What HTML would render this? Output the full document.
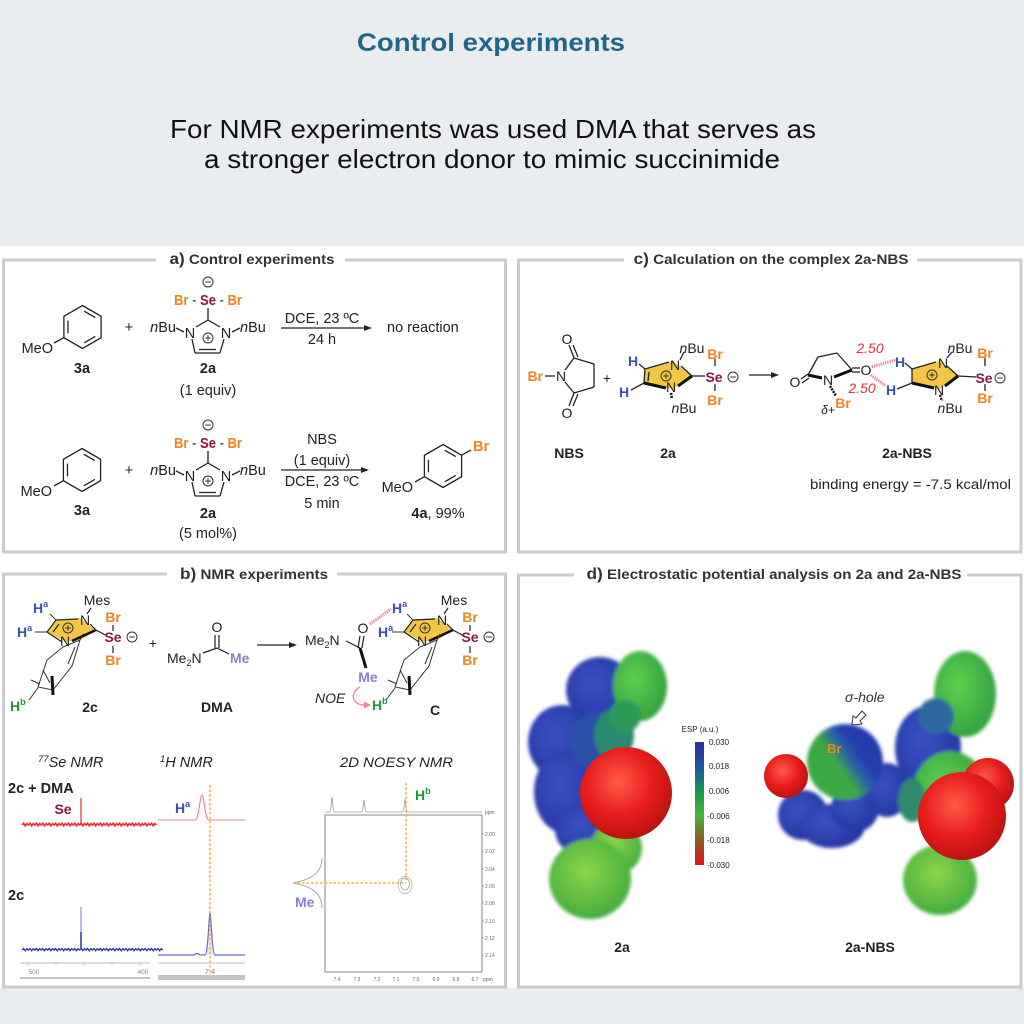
<!DOCTYPE html>
<html><head><meta charset="utf-8">
<style>
html,body{margin:0;padding:0;background:#fff;}
svg{display:block;}
text{font-family:"Liberation Sans",Arial,sans-serif;}
</style></head><body>
<svg width="1024" height="1024" viewBox="0 0 1024 1024" xmlns="http://www.w3.org/2000/svg">
<defs>
<g id="benz" stroke="#222" stroke-width="1.3" fill="none">
 <polygon points="0,-21.5 18.6,-10.75 18.6,10.75 0,21.5 -18.6,10.75 -18.6,-10.75"/>
 <line x1="1.7" y1="-15.8" x2="12.8" y2="-9.4"/>
 <line x1="-14.55" y1="-6.4" x2="-14.55" y2="6.4"/>
 <line x1="12.8" y1="9.4" x2="1.7" y2="15.8"/>
</g>
<g id="minus" stroke="#333" stroke-width="1" fill="none"><circle r="5"/><line x1="-2.8" y1="0" x2="2.8" y2="0"/></g>
<g id="plus" stroke="#333" stroke-width="1" fill="none"><circle r="5"/><line x1="-2.8" y1="0" x2="2.8" y2="0"/><line x1="0" y1="-2.8" x2="0" y2="2.8"/></g>
<radialGradient id="gRed" cx="0.42" cy="0.38" r="0.65"><stop offset="0" stop-color="#ff5a4a"/><stop offset="0.55" stop-color="#e81e1c"/><stop offset="1" stop-color="#b81212"/></radialGradient>
<radialGradient id="gBlue" cx="0.4" cy="0.4" r="0.7"><stop offset="0" stop-color="#3a50c4"/><stop offset="1" stop-color="#24349f"/></radialGradient>
<radialGradient id="gGreen" cx="0.4" cy="0.4" r="0.7"><stop offset="0" stop-color="#5fcf50"/><stop offset="1" stop-color="#2e9c3e"/></radialGradient>
<radialGradient id="gGreenY" cx="0.45" cy="0.4" r="0.7"><stop offset="0" stop-color="#8ad648"/><stop offset="1" stop-color="#3aa63e"/></radialGradient>
<linearGradient id="gBr" x1="0.1" y1="0.75" x2="0.9" y2="0.2"><stop offset="0" stop-color="#3aa844"/><stop offset="0.38" stop-color="#3aa844"/><stop offset="0.55" stop-color="#2a6aa0"/><stop offset="0.7" stop-color="#2840b0"/><stop offset="1" stop-color="#2438ae"/></linearGradient>
<linearGradient id="gBar" x1="0" y1="0" x2="0" y2="1"><stop offset="0" stop-color="#2a2f9e"/><stop offset="0.22" stop-color="#1c5a9a"/><stop offset="0.42" stop-color="#1f9a48"/><stop offset="0.6" stop-color="#45b83a"/><stop offset="0.8" stop-color="#8a5a22"/><stop offset="1" stop-color="#e01414"/></linearGradient>
<filter id="soft" x="-10%" y="-10%" width="120%" height="120%"><feGaussianBlur stdDeviation="1.8"/></filter>
</defs>

<rect width="1024" height="1024" fill="#fff"/>
<rect x="0" y="0" width="1024" height="246" fill="#e9edef"/>
<rect x="0" y="988" width="1024" height="36" fill="#e9edef"/>

<text x="491" y="51" text-anchor="middle" font-size="25" font-weight="bold" fill="#1e6687" textLength="268" lengthAdjust="spacingAndGlyphs">Control experiments</text>
<text x="493" y="138" text-anchor="middle" font-size="26" fill="#111" textLength="646" lengthAdjust="spacingAndGlyphs">For NMR experiments was used DMA that serves as</text>
<text x="492" y="168" text-anchor="middle" font-size="26" fill="#111" textLength="576" lengthAdjust="spacingAndGlyphs">a stronger electron donor to mimic succinimide</text>

<!-- panel borders -->
<g fill="none" stroke="#c9cbcd" stroke-width="3">
 <path d="M156,260 H3.5 V552 H505.5 V260 H345"/>
 <path d="M624,260 H518.5 V552 H1021 V260 H917"/>
 <path d="M167,574 H3.5 V987 H505.5 V574 H337"/>
 <path d="M574,575 H518.5 V987 H1021 V575 H967"/>
</g>
<g font-weight="bold" fill="#333" text-anchor="middle" font-size="14">
 <text x="252" y="264" textLength="165" lengthAdjust="spacingAndGlyphs"><tspan font-size="16">a)</tspan> Control experiments</text>
 <text x="771" y="264" textLength="275" lengthAdjust="spacingAndGlyphs"><tspan font-size="16">c)</tspan> Calculation on the complex 2a-NBS</text>
 <text x="254" y="579" textLength="148" lengthAdjust="spacingAndGlyphs"><tspan font-size="16">b)</tspan> NMR experiments</text>
 <text x="774" y="579" textLength="375" lengthAdjust="spacingAndGlyphs"><tspan font-size="16">d)</tspan> Electrostatic potential analysis on 2a and 2a-NBS</text>
</g>

<!-- ===== Panel a ===== -->
<g font-size="14.5" fill="#222">
 <use href="#benz" x="82.5" y="327"/>
 <line x1="63.9" y1="337.7" x2="54" y2="343" stroke="#222" stroke-width="1.3"/>
 <text x="53" y="353" text-anchor="end">MeO</text>
 <text x="82" y="373" text-anchor="middle" font-weight="bold">3a</text>
 <text x="129" y="332" text-anchor="middle">+</text>
 <g id="se2a">
  <use href="#minus" x="208" y="282"/>
  <text x="208" y="305" text-anchor="middle" font-weight="bold" textLength="68" lengthAdjust="spacingAndGlyphs"><tspan fill="#f58220">Br</tspan><tspan fill="#222" font-weight="normal"> - </tspan><tspan fill="#8c1646">Se</tspan><tspan fill="#222" font-weight="normal"> - </tspan><tspan fill="#f58220">Br</tspan></text>
  <g stroke="#222" stroke-width="1.3" fill="none">
   <line x1="208" y1="308" x2="208" y2="320"/>
   <line x1="208" y1="320" x2="196" y2="327"/>
   <line x1="192" y1="339" x2="195" y2="353"/>
   <line x1="195" y1="353" x2="220" y2="353"/>
   <line x1="220" y1="353" x2="224" y2="339"/>
   <line x1="220" y1="327" x2="208" y2="320"/>
   <line x1="199" y1="349.5" x2="216" y2="349.5"/>
   <line x1="176" y1="328" x2="184" y2="332"/>
   <line x1="232" y1="332" x2="240" y2="328"/>
  </g>
  <text x="190" y="338" text-anchor="middle">N</text>
  <text x="226" y="338" text-anchor="middle">N</text>
  <use href="#plus" x="208" y="338"/>
  <text x="176" y="332" text-anchor="end"><tspan font-style="italic">n</tspan>Bu</text>
  <text x="240" y="332"><tspan font-style="italic">n</tspan>Bu</text>
 </g>
 <text x="208" y="373" text-anchor="middle" font-weight="bold">2a</text>
 <text x="208" y="395" text-anchor="middle">(1 equiv)</text>
 <line x1="281" y1="328" x2="366" y2="328" stroke="#222" stroke-width="1.2"/>
 <polygon points="372,328 364,325 364,331" fill="#222"/>
 <text x="322" y="323" text-anchor="middle">DCE, 23 ºC</text>
 <text x="322" y="344" text-anchor="middle">24 h</text>
 <text x="387" y="332">no reaction</text>

 <use href="#benz" x="82" y="470"/>
 <line x1="63.4" y1="480.7" x2="54" y2="486" stroke="#222" stroke-width="1.3"/>
 <text x="52" y="496" text-anchor="end">MeO</text>
 <text x="82" y="515" text-anchor="middle" font-weight="bold">3a</text>
 <text x="129" y="475" text-anchor="middle">+</text>
 <use href="#se2a" x="0" y="143"/>
 <text x="208" y="518" text-anchor="middle" font-weight="bold">2a</text>
 <text x="208" y="538" text-anchor="middle">(5 mol%)</text>
 <line x1="281" y1="470" x2="363" y2="470" stroke="#222" stroke-width="1.2"/>
 <polygon points="369,470 361,467 361,473" fill="#222"/>
 <text x="322" y="444" text-anchor="middle">NBS</text>
 <text x="322" y="465" text-anchor="middle">(1 equiv)</text>
 <text x="322" y="486" text-anchor="middle">DCE, 23 ºC</text>
 <text x="322" y="508" text-anchor="middle">5 min</text>
 <use href="#benz" x="443" y="466"/>
 <line x1="424.4" y1="476.7" x2="415" y2="482" stroke="#222" stroke-width="1.3"/>
 <text x="413" y="492" text-anchor="end">MeO</text>
 <line x1="461.6" y1="455.2" x2="471" y2="450" stroke="#222" stroke-width="1.3"/>
 <text x="473" y="451" fill="#f58220" font-weight="bold">Br</text>
 <text x="438" y="518" text-anchor="middle"><tspan font-weight="bold">4a</tspan>, 99%</text>
</g>

<!-- ===== Panel c ===== -->
<g font-size="14" fill="#222">
 <text x="543" y="381" text-anchor="end" fill="#f58220" font-weight="bold">Br</text>
 <line x1="545" y1="376" x2="555" y2="376" stroke="#222" stroke-width="1.3"/>
 <text x="561" y="381" text-anchor="middle">N</text>
 <g stroke="#222" stroke-width="1.3" fill="none">
  <line x1="565" y1="370" x2="574" y2="358"/>
  <line x1="574" y1="358" x2="594" y2="364"/>
  <line x1="594" y1="364" x2="594" y2="387"/>
  <line x1="594" y1="387" x2="574" y2="393"/>
  <line x1="574" y1="393" x2="565" y2="382"/>
  <line x1="574" y1="358" x2="569" y2="345"/>
  <line x1="578" y1="357" x2="573" y2="345"/>
  <line x1="574" y1="393" x2="569" y2="406"/>
  <line x1="578" y1="394" x2="573" y2="406"/>
 </g>
 <text x="567" y="344" text-anchor="middle">O</text>
 <text x="567" y="418" text-anchor="middle">O</text>
 <text x="569" y="458" text-anchor="middle" font-weight="bold">NBS</text>
 <text x="607" y="383" text-anchor="middle">+</text>
 <polygon points="645,369 673,361 692,376 673,389 644,383" fill="#f3c744"/>
 <g stroke="#222" stroke-width="1.3" fill="none">
  <line x1="639" y1="364" x2="645" y2="369"/>
  <line x1="631" y1="390" x2="644" y2="383"/>
  <line x1="645" y1="369" x2="644" y2="383"/>
  <line x1="649" y1="372" x2="648" y2="381"/>
  <line x1="645" y1="369" x2="669" y2="362"/>
  <line x1="681" y1="366" x2="692" y2="376"/>
  <line x1="692" y1="376" x2="705" y2="376"/>
  <line x1="680" y1="360" x2="684" y2="352"/>
  <line x1="715" y1="359" x2="715" y2="366"/>
  <line x1="715" y1="384" x2="715" y2="391"/>
 </g>
 <line x1="644" y1="383" x2="666" y2="388" stroke="#111" stroke-width="3"/>
 <line x1="692" y1="376" x2="678" y2="386" stroke="#111" stroke-width="3"/>
 <line x1="671" y1="393" x2="672" y2="399" stroke="#111" stroke-width="2.5" stroke-dasharray="2,1"/>
 <use href="#plus" x="666" y="376"/>
 <text x="675" y="370" text-anchor="middle">N</text>
 <text x="671" y="392" text-anchor="middle">N</text>
 <text x="633" y="366" text-anchor="middle" fill="#3a4fb0" font-weight="bold">H</text>
 <text x="624" y="397" text-anchor="middle" fill="#3a4fb0" font-weight="bold">H</text>
 <text x="692" y="353" text-anchor="middle"><tspan font-style="italic">n</tspan>Bu</text>
 <text x="684" y="413" text-anchor="middle"><tspan font-style="italic">n</tspan>Bu</text>
 <text x="715" y="359" text-anchor="middle" fill="#f58220" font-weight="bold">Br</text>
 <text x="714" y="382" text-anchor="middle" fill="#8c1646" font-weight="bold">Se</text>
 <text x="715" y="405" text-anchor="middle" fill="#f58220" font-weight="bold">Br</text>
 <use href="#minus" x="733" y="377"/>
 <text x="668" y="458" text-anchor="middle" font-weight="bold">2a</text>
 <line x1="749" y1="375" x2="773" y2="375" stroke="#222" stroke-width="1.2"/>
 <polygon points="779,375 771,372 771,378" fill="#222"/>
 <g stroke="#222" stroke-width="1.3" fill="none">
  <line x1="801" y1="379" x2="808" y2="374"/>
  <line x1="802" y1="383" x2="809" y2="378"/>
  <line x1="808" y1="375" x2="818" y2="357"/>
  <line x1="818" y1="357" x2="837" y2="353"/>
  <line x1="837" y1="353" x2="852" y2="370"/>
  <line x1="852" y1="368" x2="860" y2="368"/>
  <line x1="852" y1="372" x2="860" y2="372"/>
 </g>
 <line x1="808" y1="375" x2="822" y2="378" stroke="#111" stroke-width="3"/>
 <line x1="852" y1="370" x2="834" y2="377" stroke="#111" stroke-width="3"/>
 <line x1="830" y1="386" x2="836" y2="396" stroke="#111" stroke-width="2.5" stroke-dasharray="2,1"/>
 <text x="795" y="387" text-anchor="middle">O</text>
 <text x="828" y="385" text-anchor="middle">N</text>
 <text x="866" y="375" text-anchor="middle">O</text>
 <text x="843" y="408" text-anchor="middle" fill="#f58220" font-weight="bold">Br</text>
 <text x="828" y="414" text-anchor="middle" font-size="12" font-style="italic" font-family="Liberation Serif">δ+</text>
 <text x="870" y="353" text-anchor="middle" fill="#e8303a" font-style="italic">2.50</text>
 <text x="862" y="393" text-anchor="middle" fill="#e8303a" font-style="italic">2.50</text>
 <line x1="872" y1="367" x2="895" y2="360" stroke="#f06070" stroke-width="3" stroke-dasharray="1,1.3"/>
 <line x1="871" y1="375" x2="886" y2="386" stroke="#f06070" stroke-width="3" stroke-dasharray="1,1.3"/>
 <polygon points="912,369 940,361 958,376 940,389 912,383" fill="#f3c744"/>
 <g stroke="#222" stroke-width="1.3" fill="none">
  <line x1="905" y1="363" x2="912" y2="369"/>
  <line x1="897" y1="389" x2="912" y2="383"/>
  <line x1="912" y1="369" x2="912" y2="383"/>
  <line x1="912" y1="369" x2="936" y2="362"/>
  <line x1="947" y1="366" x2="958" y2="376"/>
  <line x1="958" y1="376" x2="976" y2="377"/>
  <line x1="947" y1="358" x2="952" y2="352"/>
  <line x1="985" y1="358" x2="985" y2="366"/>
  <line x1="985" y1="384" x2="985" y2="391"/>
 </g>
 <line x1="912" y1="383" x2="934" y2="388" stroke="#111" stroke-width="3"/>
 <line x1="958" y1="376" x2="945" y2="386" stroke="#111" stroke-width="3"/>
 <line x1="940" y1="395" x2="942" y2="401" stroke="#111" stroke-width="2.5" stroke-dasharray="2,1"/>
 <use href="#plus" x="932" y="375"/>
 <text x="943" y="368" text-anchor="middle">N</text>
 <text x="939" y="395" text-anchor="middle">N</text>
 <text x="900" y="367" text-anchor="middle" fill="#3a4fb0" font-weight="bold">H</text>
 <text x="891" y="395" text-anchor="middle" fill="#3a4fb0" font-weight="bold">H</text>
 <text x="960" y="353" text-anchor="middle"><tspan font-style="italic">n</tspan>Bu</text>
 <text x="950" y="413" text-anchor="middle"><tspan font-style="italic">n</tspan>Bu</text>
 <text x="985" y="358" text-anchor="middle" fill="#f58220" font-weight="bold">Br</text>
 <text x="984" y="383" text-anchor="middle" fill="#8c1646" font-weight="bold">Se</text>
 <text x="985" y="403" text-anchor="middle" fill="#f58220" font-weight="bold">Br</text>
 <use href="#minus" x="1000" y="378"/>
 <text x="907" y="458" text-anchor="middle" font-weight="bold">2a-NBS</text>
 <text x="810" y="489" font-size="13.5" textLength="201" lengthAdjust="spacingAndGlyphs">binding energy = -7.5 kcal/mol</text>
</g>

<!-- ===== Panel b ===== -->
<g font-size="14" fill="#222">
 <g id="g2c">
  <polygon points="47,632 56,620 80,618 96,630 82,639 66,642" fill="#f3c744"/>
  <g stroke="#222" stroke-width="1.2" fill="none">
   <line x1="56" y1="620" x2="47" y2="632"/>
   <line x1="59" y1="624" x2="53" y2="632"/>
   <line x1="56" y1="620" x2="78" y2="619"/>
   <line x1="90" y1="624" x2="96" y2="630"/>
   <line x1="62" y1="642" x2="47" y2="632"/>
   <line x1="96" y1="630" x2="107" y2="636"/>
   <line x1="87" y1="614" x2="91" y2="608"/>
   <line x1="113" y1="625" x2="113" y2="631"/>
   <line x1="113" y1="646" x2="113" y2="653"/>
  </g>
  <line x1="96" y1="630" x2="72" y2="641" stroke="#111" stroke-width="2.6"/>
  <use href="#plus" x="68" y="628"/>
  <text x="85" y="625" text-anchor="middle">N</text>
  <text x="65" y="646" text-anchor="middle">N</text>
  <text x="97" y="605" text-anchor="middle">Mes</text>
  <text x="113" y="622" text-anchor="middle" fill="#f58220" font-weight="bold">Br</text>
  <text x="113" y="642" text-anchor="middle" fill="#8c1646" font-weight="bold">Se</text>
  <text x="113" y="665" text-anchor="middle" fill="#f58220" font-weight="bold">Br</text>
  <use href="#minus" x="132" y="637"/>
  <g stroke="#333" stroke-width="1" fill="none">
   <polygon points="63,647 80,640 72,666 53,690 38,687 47,660"/>
   <line x1="75" y1="647" x2="68" y2="664"/>
   <line x1="50" y1="683" x2="43" y2="670"/>
   <line x1="80" y1="640" x2="83" y2="634"/>
   <line x1="40" y1="684" x2="31" y2="680"/>
   <line x1="38" y1="688" x2="29" y2="700"/>
   <line x1="50" y1="614" x2="56" y2="620"/>
   <line x1="35" y1="632" x2="47" y2="632"/>
  </g>
  <line x1="52" y1="676" x2="53" y2="695" stroke="#111" stroke-width="3"/>
 </g>
 <g fill="#3a4fb0" font-weight="bold">
  <text x="33" y="613">H<tspan font-size="9" dy="-6">a</tspan></text>
  <text x="17" y="637">H<tspan font-size="9" dy="-6">a</tspan></text>
 </g>
 <text x="10" y="711" fill="#1e9440" font-weight="bold">H<tspan font-size="9" dy="-6">b</tspan></text>
 <text x="90" y="712" text-anchor="middle" font-weight="bold">2c</text>
 <text x="153" y="648" text-anchor="middle">+</text>
 <g stroke="#222" stroke-width="1.2">
  <line x1="215" y1="635" x2="215" y2="648"/>
  <line x1="219" y1="635" x2="219" y2="648"/>
  <line x1="203" y1="653" x2="217" y2="648"/>
  <line x1="217" y1="648" x2="229" y2="654"/>
 </g>
 <text x="217" y="632" text-anchor="middle">O</text>
 <text x="167" y="663">Me<tspan font-size="9" dy="3">2</tspan><tspan dy="-3">N</tspan></text>
 <text x="230" y="663" fill="#8583cf" font-weight="bold">Me</text>
 <text x="217" y="712" text-anchor="middle" font-weight="bold">DMA</text>
 <line x1="257" y1="645" x2="291" y2="645" stroke="#222" stroke-width="1.2"/>
 <polygon points="297,645 289,642 289,648" fill="#222"/>
 <use href="#g2c" x="357" y="0"/>
 <g fill="#3a4fb0" font-weight="bold">
  <text x="392" y="613">H<tspan font-size="9" dy="-6">a</tspan></text>
  <text x="378" y="637">H<tspan font-size="9" dy="-6">a</tspan></text>
 </g>
 <text x="372" y="710" fill="#1e9440" font-weight="bold">H<tspan font-size="9" dy="-6">b</tspan></text>
 <text x="305" y="645">Me<tspan font-size="9" dy="3">2</tspan><tspan dy="-3">N</tspan></text>
 <text x="363" y="633" text-anchor="middle">O</text>
 <g stroke="#222" stroke-width="1.2">
  <line x1="360" y1="636" x2="358" y2="648"/>
  <line x1="364" y1="636" x2="362" y2="648"/>
  <line x1="346" y1="641" x2="360" y2="648"/>
 </g>
 <line x1="360" y1="648" x2="366" y2="668" stroke="#111" stroke-width="3"/>
 <text x="368" y="682" text-anchor="middle" fill="#8583cf" font-weight="bold">Me</text>
 <line x1="370" y1="624" x2="391" y2="609" stroke="#f06070" stroke-width="3" stroke-dasharray="1,1.3"/>
 <text x="315" y="703" font-style="italic">NOE</text>
 <path d="M360,687 C349,693 352,706 366,705" fill="none" stroke="#f08888" stroke-width="1.3"/>
 <polygon points="371,705 364,701.5 364,708.5" fill="#f08888"/>
 <text x="435" y="715" text-anchor="middle" font-weight="bold">C</text>

 <text x="38" y="767" font-style="italic" font-size="14.5"><tspan font-size="9.5" dy="-5">77</tspan><tspan dy="5">Se NMR</tspan></text>
 <text x="160" y="767" font-style="italic" font-size="14.5"><tspan font-size="9.5" dy="-5">1</tspan><tspan dy="5">H NMR</tspan></text>
 <text x="340" y="767" font-style="italic" font-size="14" textLength="113" lengthAdjust="spacingAndGlyphs">2D NOESY NMR</text>
 <text x="8" y="793" font-weight="bold" font-size="14.5">2c + DMA</text>
 <text x="63" y="814" text-anchor="middle" font-weight="bold" fill="#8c1646" font-size="14">Se</text>
 <text x="8" y="900" font-weight="bold" font-size="14.5">2c</text>
 <path d="M22,825 l1.6,-1.8l1.6,2.6l1.6,-2.2l1.6,1.4l1.6,-1.8l1.6,2.6l1.6,-2.2l1.6,1.4l1.6,-1.8l1.6,2.6l1.6,-2.2l1.6,1.4l1.6,-1.8l1.6,2.6l1.6,-2.2l1.6,1.4l1.6,-1.8l1.6,2.6l1.6,-2.2l1.6,1.4l1.6,-1.8l1.6,2.6l1.6,-2.2l1.6,1.4l1.6,-1.8l1.6,2.6l1.6,-2.2l1.6,1.4l1.6,-1.8l1.6,2.6l1.6,-2.2l1.6,1.4l1.6,-1.8l1.6,2.6l1.6,-2.2l1.6,1.4l1.6,-1.8l1.6,2.6l1.6,-2.2l1.6,1.4l1.6,-1.8l1.6,2.6l1.6,-2.2l1.6,1.4l1.6,-1.8l1.6,2.6l1.6,-2.2l1.6,1.4l1.6,-1.8l1.6,2.6l1.6,-2.2l1.6,1.4l1.6,-1.8l1.6,2.6l1.6,-2.2l1.6,1.4l1.6,-1.8l1.6,2.6l1.6,-2.2l1.6,1.4l1.6,-1.8l1.6,2.6l1.6,-2.2l1.6,1.4l1.6,-1.8l1.6,2.6l1.6,-2.2l1.6,1.4l1.6,-1.8l1.6,2.6l1.6,-2.2l1.6,1.4l1.6,-1.8l1.6,2.6l1.6,-2.2l1.6,1.4l1.6,-1.8l1.6,2.6l1.6,-2.2l1.6,1.4l1.6,-1.8l1.6,2.6l1.6,-2.2l1.6,1.4" fill="none" stroke="#ec2a30" stroke-width="1.6"/>
 <line x1="81" y1="825" x2="81" y2="798" stroke="#ec2a30" stroke-width="1.2"/>
 <path d="M22,950 l1.6,-1.5l1.6,2.2l1.6,-1.9l1.6,1.2l1.6,-1.5l1.6,2.2l1.6,-1.9l1.6,1.2l1.6,-1.5l1.6,2.2l1.6,-1.9l1.6,1.2l1.6,-1.5l1.6,2.2l1.6,-1.9l1.6,1.2l1.6,-1.5l1.6,2.2l1.6,-1.9l1.6,1.2l1.6,-1.5l1.6,2.2l1.6,-1.9l1.6,1.2l1.6,-1.5l1.6,2.2l1.6,-1.9l1.6,1.2l1.6,-1.5l1.6,2.2l1.6,-1.9l1.6,1.2l1.6,-1.5l1.6,2.2l1.6,-1.9l1.6,1.2l1.6,-1.5l1.6,2.2l1.6,-1.9l1.6,1.2l1.6,-1.5l1.6,2.2l1.6,-1.9l1.6,1.2l1.6,-1.5l1.6,2.2l1.6,-1.9l1.6,1.2l1.6,-1.5l1.6,2.2l1.6,-1.9l1.6,1.2l1.6,-1.5l1.6,2.2l1.6,-1.9l1.6,1.2l1.6,-1.5l1.6,2.2l1.6,-1.9l1.6,1.2l1.6,-1.5l1.6,2.2l1.6,-1.9l1.6,1.2l1.6,-1.5l1.6,2.2l1.6,-1.9l1.6,1.2l1.6,-1.5l1.6,2.2l1.6,-1.9l1.6,1.2l1.6,-1.5l1.6,2.2l1.6,-1.9l1.6,1.2l1.6,-1.5l1.6,2.2l1.6,-1.9l1.6,1.2l1.6,-1.5l1.6,2.2l1.6,-1.9l1.6,1.2l1.6,-1.5l1.6,2.2l1.6,-1.9l1.6,1.2" fill="none" stroke="#3844a8" stroke-width="1.5"/>
 <line x1="81" y1="950" x2="81" y2="907" stroke="#8a90d8" stroke-width="1.2"/>
 <line x1="81" y1="950" x2="81" y2="932" stroke="#3844a8" stroke-width="1.6"/>
 <line x1="20" y1="963" x2="150" y2="963" stroke="#bbb" stroke-width="1"/>
 <g stroke="#bbb" stroke-width="0.8"><line x1="28" y1="963" x2="28" y2="966"/><line x1="56" y1="963" x2="56" y2="966"/><line x1="84" y1="963" x2="84" y2="966"/><line x1="112" y1="963" x2="112" y2="966"/><line x1="140" y1="963" x2="140" y2="966"/></g>
 <text x="34" y="974" font-size="6.5" fill="#888" text-anchor="middle">500</text>
 <text x="143" y="974" font-size="6.5" fill="#888" text-anchor="middle">400</text>
 <line x1="20" y1="978" x2="150" y2="978" stroke="#c4c4c4" stroke-width="2"/>
 <path d="M158,820 L195,820 C199,820 200,795 202,795 C204,795 205,820 209,820 L245,820" fill="none" stroke="#f07c88" stroke-width="1.1"/>
 <text x="175" y="813" fill="#3a4fb0" font-weight="bold">H<tspan font-size="9" dy="-6">a</tspan></text>
 <path d="M158,955 L194,955 Q197,952 200,955 L205,955 C208,955 209,913 210,913 C211,913 212,955 215,955 L245,955" fill="#c8c8ee" fill-opacity="0.4" stroke="#6a6ac8" stroke-width="1.2"/>
 <line x1="158" y1="963" x2="245" y2="963" stroke="#bbb" stroke-width="1"/>
 <rect x="158" y="975" width="87" height="5" fill="#c4c4c4"/>
 <text x="210" y="974" font-size="7.5" fill="#888" text-anchor="middle">7.4</text>
 <line x1="210" y1="785" x2="210" y2="973" stroke="#f0a500" stroke-width="1.2" stroke-dasharray="2.5,2"/>
 <rect x="325" y="815" width="157" height="157" fill="none" stroke="#666" stroke-width="0.8"/>
 <path d="M325,812 L330,812 C331,812 331.5,797 332,797 C332.5,797 333,812 334,812 L362,812 C363,812 363.5,800 364,800 C364.5,800 365,812 366,812 L403,812 C404,812 404.5,799 405,799 C405.5,799 406,812 407,812 L482,812" fill="none" stroke="#999" stroke-width="0.8"/>
 <path d="M322,858 C322,878 302,881 293,883 C302,885 322,888 322,908" fill="none" stroke="#999" stroke-width="0.8"/>
 <ellipse cx="405" cy="884" rx="4.5" ry="6" fill="none" stroke="#999" stroke-width="0.7"/>
 <ellipse cx="405" cy="885" rx="7" ry="8.5" fill="none" stroke="#aaa" stroke-width="0.7"/>
 <line x1="406" y1="783" x2="406" y2="883" stroke="#f0a500" stroke-width="1.2" stroke-dasharray="2.5,2"/>
 <line x1="293" y1="883" x2="406" y2="883" stroke="#f0a500" stroke-width="1.2" stroke-dasharray="2.5,2"/>
 <text x="415" y="800" fill="#1e9440" font-weight="bold">H<tspan font-size="9" dy="-6">b</tspan></text>
 <text x="295" y="907" fill="#8583cf" font-weight="bold">Me</text>
 <g font-size="5" fill="#666">
  <text x="485" y="814">ppm</text>
  <text x="485" y="836">2.00</text><text x="485" y="853">2.02</text><text x="485" y="871">2.04</text><text x="485" y="888">2.06</text><text x="485" y="905">2.08</text><text x="485" y="923">2.10</text><text x="485" y="940">2.12</text><text x="485" y="957">2.14</text>
  <text x="337" y="981" text-anchor="middle">7.4</text><text x="357" y="981" text-anchor="middle">7.3</text><text x="377" y="981" text-anchor="middle">7.2</text><text x="396" y="981" text-anchor="middle">7.1</text><text x="416" y="981" text-anchor="middle">7.0</text><text x="436" y="981" text-anchor="middle">6.9</text><text x="456" y="981" text-anchor="middle">6.8</text><text x="475" y="981" text-anchor="middle">6.7</text><text x="488" y="981" text-anchor="middle">ppm</text>
 </g>
 <g stroke="#666" stroke-width="0.5">
  <line x1="482" y1="834" x2="484" y2="834"/><line x1="482" y1="851" x2="484" y2="851"/><line x1="482" y1="869" x2="484" y2="869"/><line x1="482" y1="886" x2="484" y2="886"/><line x1="482" y1="903" x2="484" y2="903"/><line x1="482" y1="921" x2="484" y2="921"/><line x1="482" y1="938" x2="484" y2="938"/><line x1="482" y1="955" x2="484" y2="955"/>
 </g>
</g>

<!-- ===== Panel d ===== -->
<g>
 <!-- 2a surface -->
 <g filter="url(#soft)">
  <ellipse cx="600" cy="690" rx="34" ry="33" fill="url(#gBlue)"/>
  <ellipse cx="562" cy="742" rx="34" ry="37" fill="url(#gBlue)"/>
  <ellipse cx="567" cy="792" rx="33" ry="42" fill="url(#gBlue)"/>
  <ellipse cx="585" cy="830" rx="30" ry="26" fill="url(#gBlue)"/>
  <ellipse cx="598" cy="742" rx="28" ry="30" fill="#2a50a8"/>
  <ellipse cx="614" cy="735" rx="20" ry="26" fill="#2a8a70"/>
  <ellipse cx="640" cy="686" rx="27" ry="35" fill="url(#gGreen)"/>
  <ellipse cx="625" cy="716" rx="16" ry="16" fill="#2f9a5a"/>
  <ellipse cx="616" cy="848" rx="26" ry="26" fill="url(#gGreenY)"/>
  <ellipse cx="590" cy="879" rx="41" ry="40" fill="url(#gGreenY)"/>
 </g>
 <circle cx="626" cy="793" r="46" fill="url(#gRed)"/>
 <!-- colour bar -->
 <rect x="695" y="742" width="9" height="123" fill="url(#gBar)"/>
 <g font-family="Liberation Serif" font-size="8" fill="#222">
  <text x="700" y="732" text-anchor="middle">ESP (a.u.)</text>
  <text x="709" y="745">0.030</text>
  <text x="709" y="769">0.018</text>
  <text x="709" y="794">0.006</text>
  <text x="707" y="819">-0.006</text>
  <text x="707" y="843">-0.018</text>
  <text x="707" y="868">-0.030</text>
 </g>
 <!-- 2a-NBS surface -->
 <g filter="url(#soft)">
  <ellipse cx="803" cy="815" rx="25" ry="25" fill="url(#gBlue)"/>
  <ellipse cx="832" cy="826" rx="33" ry="22" fill="url(#gBlue)"/>
  <ellipse cx="855" cy="808" rx="24" ry="24" fill="url(#gBlue)"/>
  <ellipse cx="887" cy="790" rx="22" ry="27" fill="url(#gBlue)"/>
  <ellipse cx="928" cy="748" rx="33" ry="42" fill="url(#gBlue)"/>
  <ellipse cx="965" cy="694" rx="31" ry="43" fill="url(#gGreen)"/>
  <ellipse cx="936" cy="716" rx="18" ry="18" fill="#2f6aa0"/>
  <ellipse cx="950" cy="795" rx="38" ry="44" fill="url(#gGreen)"/>
  <ellipse cx="912" cy="800" rx="14" ry="22" fill="#2e8a6a"/>
  <ellipse cx="940" cy="880" rx="37" ry="35" fill="url(#gGreenY)"/>
  <circle cx="845" cy="762" r="38" fill="url(#gBr)"/>
 </g>
 <circle cx="786" cy="776" r="22" fill="url(#gRed)"/>
 <circle cx="988" cy="784" r="26" fill="url(#gRed)"/>
 <circle cx="962" cy="816" r="44" fill="url(#gRed)"/>
 <text x="827" y="753" font-size="13" font-weight="bold" fill="#f58220">Br</text>
 <text x="845" y="702" font-size="14" font-style="italic" fill="#333">σ-hole</text>
 <polygon points="852,725 853,716 856,718 862,711 866,715 860,721 862,724" fill="#fff" stroke="#333" stroke-width="1"/>
 <text x="622" y="952" text-anchor="middle" font-size="14" font-weight="bold" fill="#222">2a</text>
 <text x="870" y="952" text-anchor="middle" font-size="14" font-weight="bold" fill="#222">2a-NBS</text>
</g>
</svg>
</body></html>
